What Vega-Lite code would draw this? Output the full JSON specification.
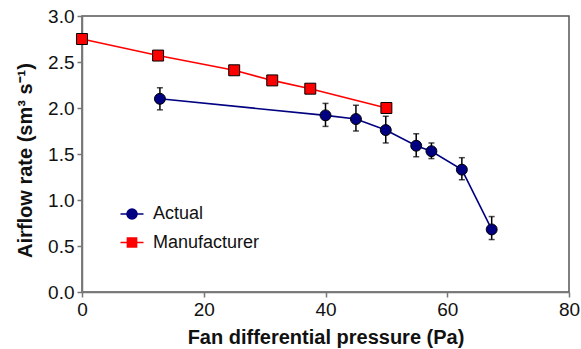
{
  "$schema": "https://vega.github.io/schema/vega-lite/v6.json",
  "width": 487,
  "height": 276,
  "autosize": "none",
  "padding": {"left": 82, "top": 16, "right": 12, "bottom": 57},
  "background": "white",
  "config": {
    "font": "Liberation Sans",
    "view": {"stroke": "#555555", "strokeWidth": 1.5},
    "axis": {
      "grid": false,
      "domainColor": "#777777",
      "domainWidth": 1.5,
      "tickColor": "#777777",
      "tickWidth": 1.5,
      "tickSize": 5,
      "labelFont": "Liberation Sans",
      "labelFontSize": 19,
      "labelColor": "#111111",
      "labelFlush": false,
      "titleFont": "Liberation Sans",
      "titleFontSize": 20,
      "titleFontWeight": "bold",
      "titleColor": "#111111"
    },
    "legend": {
      "disable": false,
      "labelFont": "Liberation Sans",
      "labelFontSize": 18,
      "labelColor": "#111111",
      "padding": 0
    }
  },
  "data": {
    "values": [
      {"series": "Actual", "p": 12.8, "q": 2.10, "lo": 1.98, "hi": 2.22},
      {"series": "Actual", "p": 40.0, "q": 1.92, "lo": 1.80, "hi": 2.05},
      {"series": "Actual", "p": 45.0, "q": 1.88, "lo": 1.75, "hi": 2.03},
      {"series": "Actual", "p": 49.9, "q": 1.76, "lo": 1.62, "hi": 1.91},
      {"series": "Actual", "p": 54.9, "q": 1.59, "lo": 1.47, "hi": 1.72},
      {"series": "Actual", "p": 57.4, "q": 1.53, "lo": 1.45, "hi": 1.62},
      {"series": "Actual", "p": 62.4, "q": 1.33, "lo": 1.22, "hi": 1.46},
      {"series": "Actual", "p": 67.3, "q": 0.68, "lo": 0.57, "hi": 0.82},
      {"series": "Manufacturer", "p": 0, "q": 2.75},
      {"series": "Manufacturer", "p": 12.5, "q": 2.57},
      {"series": "Manufacturer", "p": 25, "q": 2.41},
      {"series": "Manufacturer", "p": 31.25, "q": 2.30},
      {"series": "Manufacturer", "p": 37.5, "q": 2.21},
      {"series": "Manufacturer", "p": 50, "q": 2.00}
    ]
  },
  "encoding": {
    "x": {
      "field": "p", "type": "quantitative",
      "scale": {"domain": [0, 80], "nice": false, "zero": false},
      "axis": {"values": [0, 20, 40, 60, 80], "title": "Fan differential pressure (Pa)", "titlePadding": 8, "labelPadding": 3, "labelFontSize": 19}
    },
    "y": {
      "field": "q", "type": "quantitative",
      "scale": {"domain": [0, 3], "nice": false},
      "axis": {"values": [0, 0.5, 1, 1.5, 2, 2.5, 3], "format": ".1f", "title": "Airflow rate (sm³  s⁻¹)", "titlePadding": 12, "titleY": 144, "labelPadding": 3, "labelFontSize": 19}
    }
  },
  "layer": [
    {
      "transform": [{"filter": "datum.series === 'Actual'"}],
      "mark": {"type": "line", "strokeWidth": 1.6, "color": "#000080"},
      "encoding": {}
    },
    {
      "transform": [{"filter": "datum.series === 'Manufacturer'"}],
      "mark": {"type": "line", "strokeWidth": 1.6, "color": "#ff0000"},
      "encoding": {}
    },
    {
      "transform": [{"filter": "isValid(datum.lo)"}],
      "mark": {"type": "rule", "color": "black", "strokeWidth": 1.5},
      "encoding": {"y": {"field": "lo", "type": "quantitative"}, "y2": {"field": "hi"}}
    },
    {
      "transform": [{"filter": "isValid(datum.lo)"}],
      "mark": {"type": "tick", "color": "black", "orient": "horizontal", "size": 6, "thickness": 1.5},
      "encoding": {"y": {"field": "lo", "type": "quantitative"}}
    },
    {
      "transform": [{"filter": "isValid(datum.lo)"}],
      "mark": {"type": "tick", "color": "black", "orient": "horizontal", "size": 6, "thickness": 1.5},
      "encoding": {"y": {"field": "hi", "type": "quantitative"}}
    },
    {
      "transform": [{"filter": "datum.series === 'Actual'"}],
      "mark": {"type": "point", "shape": "circle", "filled": true, "fill": "#000080", "stroke": "black", "strokeWidth": 1, "opacity": 1, "size": 120},
      "encoding": {}
    },
    {
      "transform": [{"filter": "datum.series === 'Manufacturer'"}],
      "mark": {"type": "point", "shape": "square", "filled": true, "fill": "#ff0000", "stroke": "black", "strokeWidth": 1, "opacity": 1, "size": 120},
      "encoding": {}
    },
    {
      "mark": {"type": "point", "filled": true, "opacity": 0, "size": 1},
      "encoding": {
        "fill": {"field": "series", "type": "nominal", "scale": {"domain": ["Actual", "Manufacturer"], "range": ["#000080", "#ff0000"]},
          "legend": {"disable": false, "title": null, "orient": "none", "legendX": 37.5, "legendY": 185.5, "symbolSize": 529, "symbolStrokeWidth": 1.5, "symbolOpacity": 1, "rowPadding": 6.5, "labelOffset": 8.5}},
        "stroke": {"field": "series", "type": "nominal", "scale": {"domain": ["Actual", "Manufacturer"], "range": ["#000080", "#ff0000"]},
          "legend": {"disable": false, "title": null, "orient": "none", "legendX": 37.5, "legendY": 185.5, "symbolSize": 529, "symbolStrokeWidth": 1.5, "symbolOpacity": 1, "rowPadding": 6.5, "labelOffset": 8.5}},
        "shape": {"field": "series", "type": "nominal",
          "scale": {"domain": ["Actual", "Manufacturer"], "range": ["M-1,0H1M-0.44,0A0.44,0.44 0 1 0 0.44,0A0.44,0.44 0 1 0 -0.44,0Z", "M-1,0H1M-0.4,-0.4H0.4V0.4H-0.4Z"]},
          "legend": {"disable": false, "title": null, "orient": "none", "legendX": 37.5, "legendY": 185.5, "symbolSize": 529, "symbolStrokeWidth": 1.5, "symbolOpacity": 1, "rowPadding": 6.5, "labelOffset": 8.5}}
      }
    }
  ]
}
